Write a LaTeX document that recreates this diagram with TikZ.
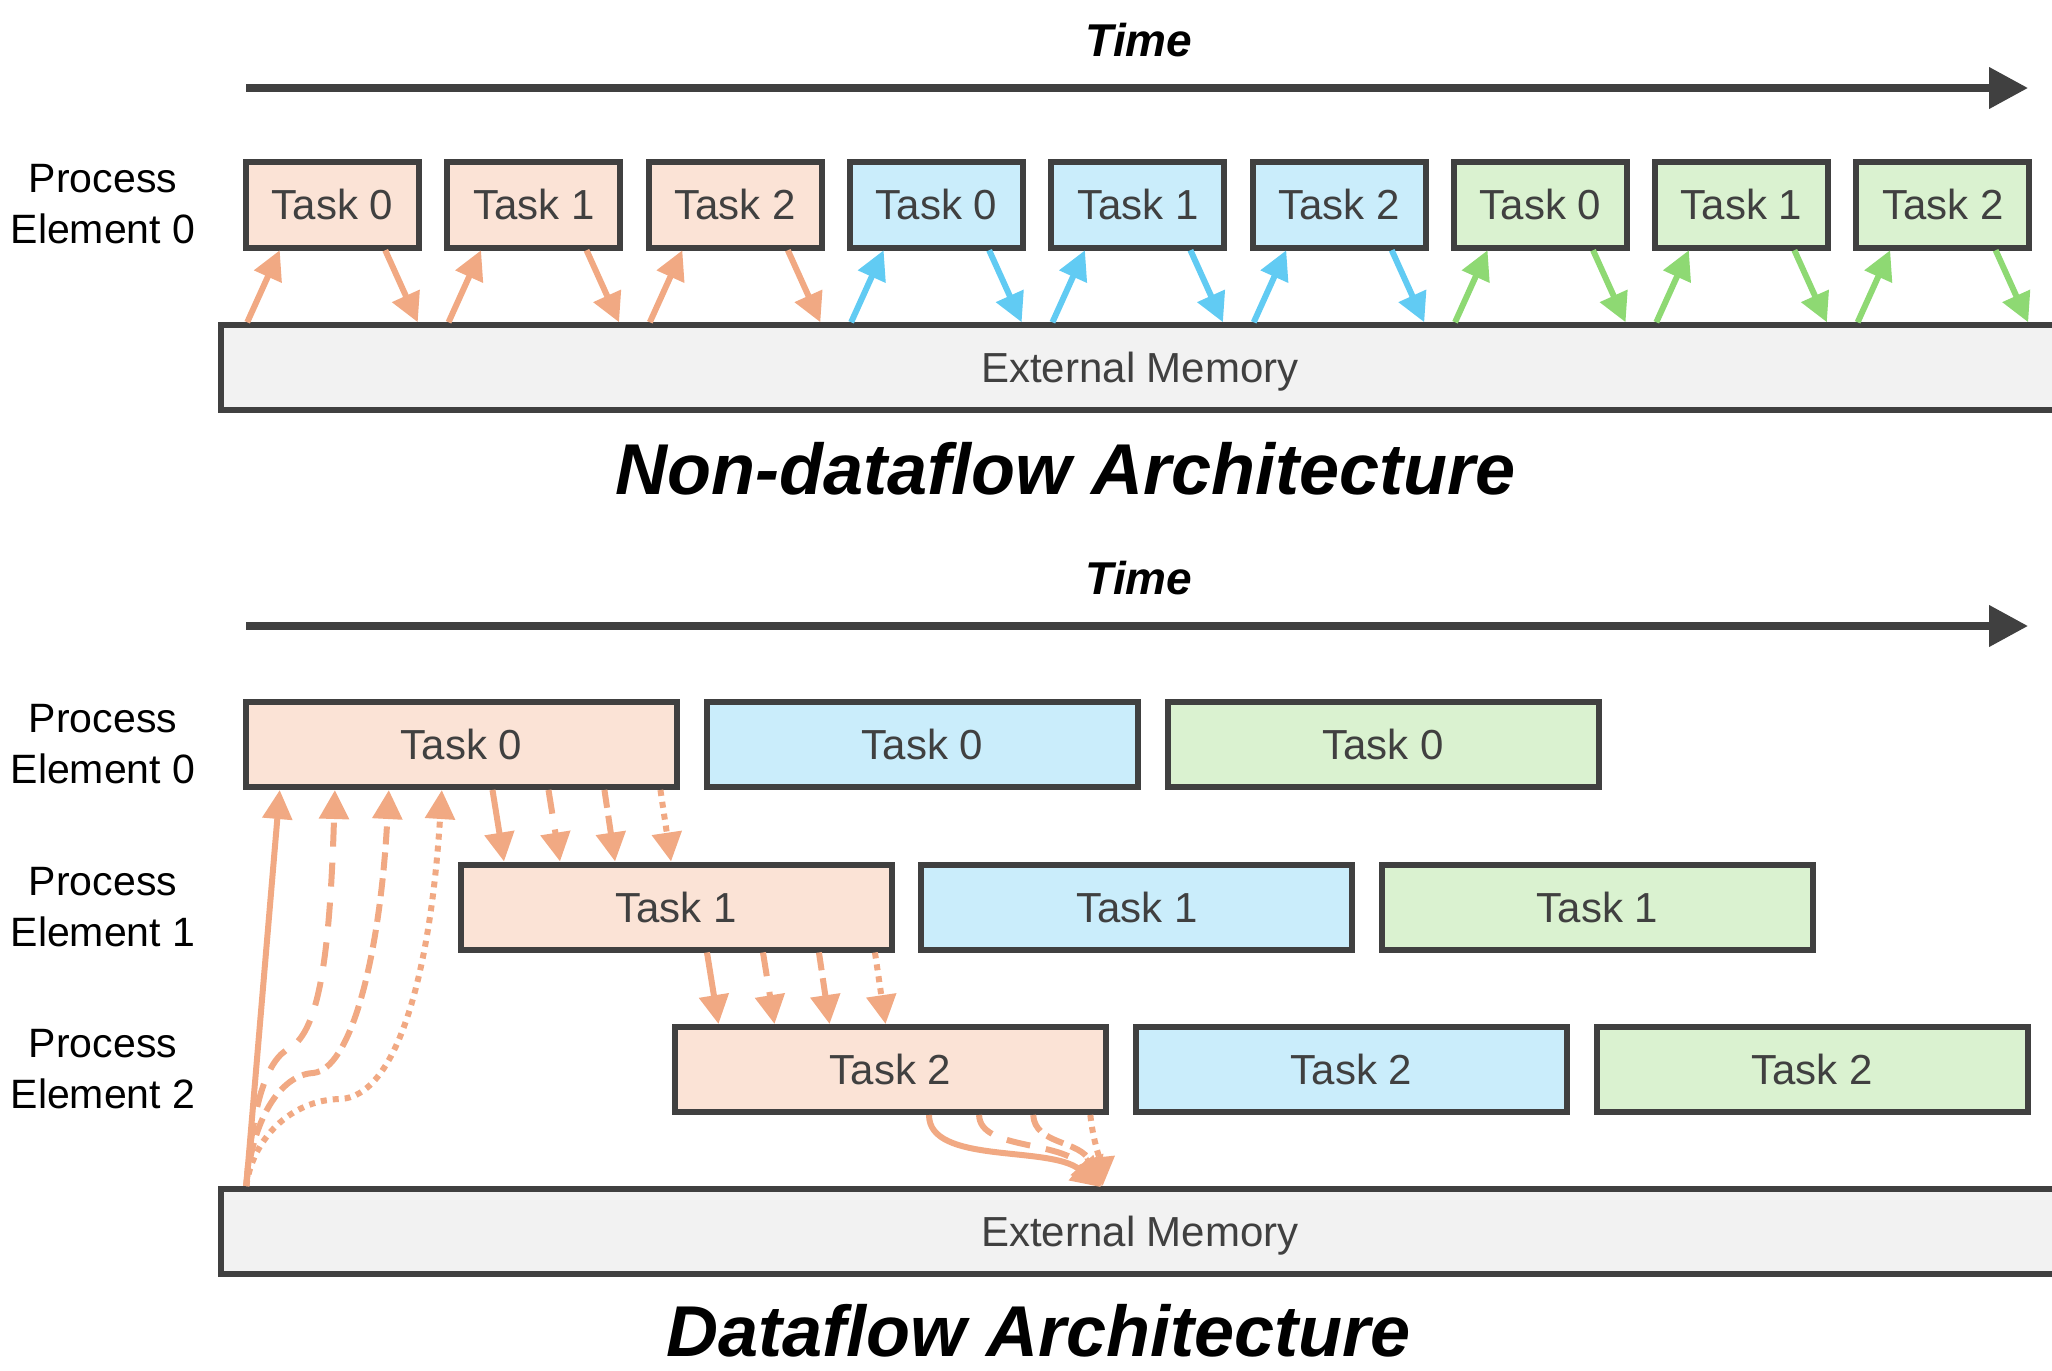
\documentclass[tikz,border=0pt]{standalone}
\usepackage{fontspec}
\setmainfont{Liberation Sans}
\usetikzlibrary{arrows.meta,calc}
\definecolor{dk}{HTML}{404040}
\definecolor{memfill}{HTML}{F2F2F2}
\definecolor{fillO}{HTML}{FBE3D6}
\definecolor{fillB}{HTML}{CAEDFB}
\definecolor{fillG}{HTML}{DAF2D0}
\definecolor{arrO}{HTML}{F1A983}
\definecolor{arrB}{HTML}{61CBF3}
\definecolor{arrG}{HTML}{8ED973}
\begin{document}
\begin{tikzpicture}[x=0.5pt,y=-0.5pt,
  tbox/.style={draw=dk, line width=3pt, inner sep=0pt, outer sep=0pt, anchor=north west,
    text=dk, font=\fontsize{21}{25}\selectfont, minimum width=86.5pt, minimum height=43pt},
  bbox/.style={tbox, minimum width=215.5pt, minimum height=42.5pt},
  memb/.style={draw=dk, fill=memfill, line width=3pt, inner sep=0pt, outer sep=0pt,
    anchor=north west, minimum width=919pt, minimum height=42.5pt, text=dk,
    text depth=0pt, font=\fontsize{21}{25}\selectfont},
  pe/.style={align=center, inner sep=0pt, font=\fontsize{20.5}{25.5}\selectfont},
  ttl/.style={inner sep=0pt, font=\fontsize{36}{40}\selectfont\bfseries\itshape},
  timel/.style={inner sep=0pt, font=\fontsize{23}{26}\selectfont\bfseries\itshape},
  timearr/.style={draw=dk, line width=3.75pt, -{Triangle[length=19.5pt,width=20pt]}},
  arr/.style={line width=3pt, -{Triangle[length=14.5pt,width=14.5pt]}, shorten <=1.5pt, shorten >=1.5pt},
  dA/.style={dash pattern=on 12pt off 8pt},
  dB/.style={dash pattern=on 9pt off 4pt},
  dC/.style={dash pattern=on 3pt off 3pt}
]
\useasboundingbox (0,0) rectangle (2052,1371);
\clip (0,0) rectangle (2052,1371);

% ---------------- Non-dataflow ----------------
\node[timel] (time1) at (1139,40) {Time};
\coordinate (tl1) at (246,88);
\coordinate (tr1) at (2028,88);
\draw[timearr] (tl1) -- (tr1);

\node[pe] (pe0a) at (103,204.5) {Process\\Element 0};

\node[memb] (m1) at (221,325) {External Memory};

\foreach \i/\k/\c in {0/0/O,1/1/O,2/2/O,3/0/B,4/1/B,5/2/B,6/0/G,7/1/G,8/2/G}{
  \node[tbox, fill=fill\c] (a\i) at ({246+201.3*\i},161.5) {Task \k};
}
\foreach \i/\c in {0/O,1/O,2/O,3/B,4/B,5/B,6/G,7/G,8/G}{
  \draw[arr, color=arr\c] (a\i.south west |- m1.north) -- ($(a\i.south west)+(35,0)$);
  \draw[arr, color=arr\c] ($(a\i.south east)+(-35,0)$) -- (a\i.south east |- m1.north);
}

\node[ttl] (title1) at (1066,469) {Non-dataflow Architecture};

% ---------------- Dataflow ----------------
\node[timel] (time2) at (1139,578) {Time};
\coordinate (tl2) at (246,626);
\coordinate (tr2) at (2028,626);
\draw[timearr] (tl2) -- (tr2);

\node[pe] (pe0b) at (103,744.5) {Process\\Element 0};
\node[pe] (pe1b) at (103,907) {Process\\Element 1};
\node[pe] (pe2b) at (103,1069.5) {Process\\Element 2};

\node[memb] (m2) at (221,1189) {External Memory};

\foreach \r in {0,1,2}{
  \foreach \cc/\c in {0/O,1/B,2/G}{
    \node[bbox, fill=fill\c] (b\r\cc) at ({246+214.5*\r+460.8*\cc},{702+162.5*\r}) {Task \r};
  }
}

% row to row arrows
\foreach \r/\n in {0/1,1/2}{
  \draw[arr, color=arrO] ($(b\r0.south west)+(246,0)$) -- ($(b\n0.north west)+(44,0)$);
  \draw[arr, color=arrO, dA] ($(b\r0.south west)+(302,0)$) -- ($(b\n0.north west)+(100,0)$);
  \draw[arr, color=arrO, dB] ($(b\r0.south west)+(358,0)$) -- ($(b\n0.north west)+(155,0)$);
  \draw[arr, color=arrO, dC] ($(b\r0.south west)+(414,0)$) -- ($(b\n0.north west)+(211,0)$);
}

% memory to Task 0
\coordinate (S) at (b00.south west |- m2.north);
\draw[arr, color=arrO] (S) -- ($(b00.south west)+(34,0)$);
\draw[arr, color=arrO, dA] (S) .. controls (252,1110) and (265,1060) .. (290,1048)
   .. controls (320,1030) and (330,950) .. ($(b00.south west)+(89,0)$);
\draw[arr, color=arrO, dB] (S) .. controls (252,1120) and (280,1075) .. (313,1073)
   .. controls (350,1070) and (380,960) .. ($(b00.south west)+(143,0)$);
\draw[arr, color=arrO, dC] (S) .. controls (252,1140) and (290,1100) .. (340,1099)
   .. controls (395,1097) and (430,980) .. ($(b00.south west)+(196,0)$);

% Task 2 to memory
\coordinate (E0) at (b20.south east |- m2.north);
\coordinate (E) at ($(E0)+(-3,0)$);
\draw[arr, color=arrO] ($(b20.south west)+(254,0)$) .. controls (929,1165) and (1050,1145) .. (E);
\draw[arr, color=arrO, dA] ($(b20.south west)+(304,0)$) .. controls (980,1150) and (1060,1140) .. (E);
\draw[arr, color=arrO, dB] ($(b20.south west)+(358,0)$) .. controls (1035,1145) and (1080,1140) .. (E);
\draw[arr, color=arrO, dC] ($(b20.south west)+(415,0)$) .. controls (1093,1140) and (1100,1160) .. (E);

\node[ttl] (title2) at (1039,1331) {Dataflow Architecture};
\end{tikzpicture}
\end{document}
